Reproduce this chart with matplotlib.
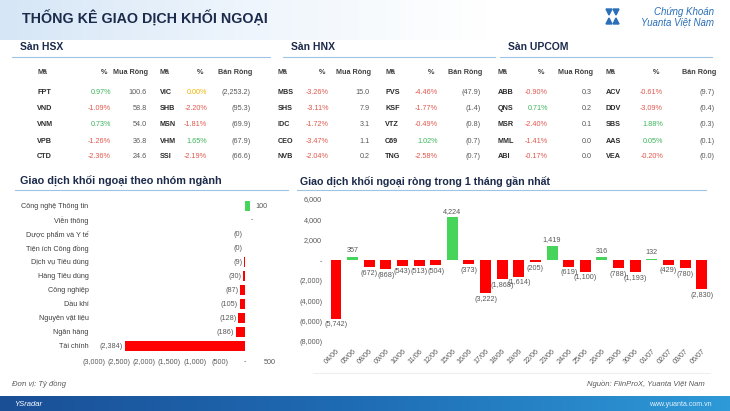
import numpy as np
import matplotlib
matplotlib.use("Agg")
import matplotlib.pyplot as plt
from matplotlib.patches import Polygon

plt.rcParams['font.family'] = ['Liberation Sans', 'DejaVu Sans']

W, H = 730, 411

# --- dữ liệu bảng ---
hsx_buy = ["FPT", "VND", "VNM", "VPB", "CTD"]
hsx_buy_pct = [0.97, -1.09, 0.73, -1.26, -2.36]
hsx_buy_val = [100.6, 58.8, 54.0, 36.8, 24.6]
hsx_sell = ["VIC", "SHB", "MSN", "VHM", "SSI"]
hsx_sell_pct = [0.00, -2.20, -1.81, 1.65, -2.19]
hsx_sell_val = [-2253.2, -95.3, -69.9, -67.9, -66.6]

hnx_buy = ["MBS", "SHS", "IDC", "CEO", "NVB"]
hnx_buy_pct = [-3.26, -3.11, -1.72, -3.47, -2.04]
hnx_buy_val = [15.0, 7.9, 3.1, 1.1, 0.2]
hnx_sell = ["PVS", "KSF", "VTZ", "C69", "TNG"]
hnx_sell_pct = [-4.46, -1.77, -0.49, 1.02, -2.58]
hnx_sell_val = [-47.9, -1.4, -0.8, -0.7, -0.7]

upc_buy = ["ABB", "QNS", "MSR", "MML", "ABI"]
upc_buy_pct = [-0.90, 0.71, -2.40, -1.41, -0.17]
upc_buy_val = [0.3, 0.2, 0.1, 0.0, 0.0]
upc_sell = ["ACV", "DDV", "SBS", "AAS", "VEA"]
upc_sell_pct = [-0.61, -3.09, 1.88, 0.05, -0.20]
upc_sell_val = [-9.7, -0.4, -0.3, -0.1, -0.0]

# --- theo nhóm ngành ---
sectors = ["Công nghệ Thông tin", "Viễn thông", "Dược phẩm và Y tế", "Tiện ích Công đồng",
           "Dịch vụ Tiêu dùng", "Hàng Tiêu dùng", "Công nghiệp", "Dầu khí",
           "Nguyên vật liệu", "Ngân hàng", "Tài chính"]
sector_vals = [100, 0, -0.3, -0.4, -9, -30, -87, -105, -128, -186, -2384]

# --- 1 tháng gần nhất ---
dates = ["04/06", "05/06", "08/06", "09/06", "10/06", "11/06", "12/06", "15/06", "16/06",
         "17/06", "18/06", "19/06", "22/06", "23/06", "24/06", "25/06", "26/06", "29/06",
         "30/06", "01/07", "02/07", "03/07", "06/07"]
daily_vals = [-5742, 357, -672, -868, -543, -513, -504, 4224, -373, -3222, -1868, -1614,
              -205, 1419, -619, -1100, 316, -788, -1193, 132, -429, -780, -2830]

RED = "#ff0000"
GREEN = "#47d45a"
GREY = "#595959"
NAVY = "#1c2b4b"
LINE = "#9dc3e6"


def fmt(v):
    if v == 0:
        return "-"
    if v < 0:
        return "({:,.0f})".format(abs(v))
    return "{:,.0f}".format(v)


def fmt1(v):
    if v < 0:
        return "({:,.1f})".format(abs(v))
    return "{:,.1f}".format(v)


def pct_color(p):
    if p > 0:
        return "#3cb55a"
    if p < 0:
        return "#e0584c"
    return "#f5b400"


fig = plt.figure(figsize=(W / 100, H / 100), dpi=100)


def P(x, y):
    return x / W, 1 - y / H


def txt(x, y, s, **kw):
    fig.text(*P(x, y), s, **kw)


# header gradient
hax = fig.add_axes([0, 1 - 40 / H, 1, 40 / H], zorder=-5)
grad = np.linspace(0, 1, 256).reshape(1, -1)
cmap = matplotlib.colors.LinearSegmentedColormap.from_list("h", ["#d6e6f6", "#eef5fc", "#ffffff", "#ffffff"])
hax.imshow(grad, aspect="auto", cmap=cmap, extent=[0, 1, 0, 1])
hax.axis("off")
txt(22, 19, "THỐNG KÊ GIAO DỊCH KHỐI NGOẠI", fontsize=10.3, color=NAVY, va="center", weight="bold")
# logo
for pts in [[(606, 9), (612, 9), (609, 15)], [(613, 9), (619, 9), (616, 15)],
            [(606, 24), (612, 24), (609, 18)], [(613, 24), (619, 24), (616, 18)]]:
    fig.patches.append(Polygon([P(*p) for p in pts], closed=True, color="#2a6fb8", transform=fig.transFigure))
txt(714, 12, "Chứng Khoán", fontsize=7, color="#2a6fb8", style="italic", va="center", ha="right")
txt(714, 22, "Yuanta Việt Nam", fontsize=7, color="#2a6fb8", style="italic", va="center", ha="right")

# section headers
for x0, x1, name in [(12, 270, "Sàn HSX"), (283, 495, "Sàn HNX"), (500, 712, "Sàn UPCOM")]:
    txt(x0 + 8, 47, name, fontsize=7.5, color=NAVY, weight="bold", va="center")
    fig.add_artist(plt.Line2D([x0 / W, x1 / W], [1 - 57 / H] * 2, color=LINE, lw=0.8))

rows_y = [92, 108, 124, 141, 157]
head_y = 73
tables = [
    (hsx_buy, hsx_buy_pct, hsx_buy_val, hsx_sell, hsx_sell_pct, hsx_sell_val,
     [37, 111, 147, 160, 207, 251]),
    (hnx_buy, hnx_buy_pct, hnx_buy_val, hnx_sell, hnx_sell_pct, hnx_sell_val,
     [278, 329, 370, 385, 438, 481]),
    (upc_buy, upc_buy_pct, upc_buy_val, upc_sell, upc_sell_pct, upc_sell_val,
     [498, 548, 592, 606, 663, 715]),
]
fs = 5.2
for bcode, bpct, bval, scode, spct, sval, xs in tables:
    hdr = dict(fontsize=fs, color="#404040", weight="bold", va="center")
    txt(xs[0], head_y, "Mã", ha="left", **hdr)
    txt(xs[1] - 4, head_y, "%", ha="right", **hdr)
    txt(xs[2] + 1, head_y, "Mua Ròng", ha="right", **hdr)
    txt(xs[3], head_y, "Mã", ha="left", **hdr)
    txt(xs[4] - 4, head_y, "%", ha="right", **hdr)
    txt(xs[5] + 1, head_y, "Bán Ròng", ha="right", **hdr)
    for i, y in enumerate(rows_y):
        txt(xs[0], y, bcode[i], fontsize=fs, color="#2b2b2b", weight="bold", va="center")
        txt(xs[1], y, "{:.2f}%".format(bpct[i]), fontsize=fs, color=pct_color(bpct[i]), ha="right", va="center")
        txt(xs[2], y, fmt1(bval[i]), fontsize=fs, color=GREY, ha="right", va="center")
        txt(xs[3], y, scode[i], fontsize=fs, color="#2b2b2b", weight="bold", va="center")
        txt(xs[4], y, "{:.2f}%".format(spct[i]), fontsize=fs, color=pct_color(spct[i]), ha="right", va="center")
        txt(xs[5], y, "({:,.1f})".format(abs(sval[i])), fontsize=fs, color=GREY, ha="right", va="center")

# chart titles
txt(20, 181, "Giao dịch khối ngoại theo nhóm ngành", fontsize=7.8, color=NAVY, weight="bold", va="center")
fig.add_artist(plt.Line2D([15 / W, 288 / W], [1 - 190 / H] * 2, color=LINE, lw=0.8))
txt(300, 181, "Giao dịch khối ngoại ròng trong 1 tháng gần nhất", fontsize=7.7, color=NAVY, weight="bold", va="center")
fig.add_artist(plt.Line2D([297 / W, 706 / W], [1 - 190 / H] * 2, color=LINE, lw=0.8))

# sector chart
ax1 = fig.add_axes([94 / W, 1 - 353 / H, 176 / W, 154 / H])
ypos = np.arange(len(sectors))
cols = [GREEN if v > 0 else RED for v in sector_vals]
ax1.barh(ypos, sector_vals, height=0.65, color=cols)
ax1.set_ylim(len(sectors) - 0.5, -0.5)
ax1.set_xlim(-3000, 500)
ax1.set_yticks(ypos)
ax1.set_yticklabels(sectors, fontsize=5.2, color="#404040")
xt = [-3000, -2500, -2000, -1500, -1000, -500, 0, 500]
ax1.set_xticks(xt)
ax1.set_xticklabels([fmt(v) for v in xt], fontsize=5.2, color=GREY)
ax1.tick_params(length=0, pad=4)
for s in ax1.spines.values():
    s.set_visible(False)
for i, v in enumerate(sector_vals):
    if v >= 0:
        ax1.text(v + 110, i, fmt(v), fontsize=5.2, color=GREY, ha="left", va="center")
    else:
        ax1.text(v - 40, i, fmt(v), fontsize=5.2, color=GREY, ha="right", va="center")

# daily chart
ax2 = fig.add_axes([327.7 / W, 1 - 342 / H, 382.3 / W, 143 / H])
xpos = np.arange(len(dates))
cols = [GREEN if v > 0 else RED for v in daily_vals]
ax2.bar(xpos, daily_vals, width=0.66, color=cols)
ax2.set_xlim(-0.5, len(dates) - 0.5)
ax2.set_ylim(-8000, 6000)
yt = list(range(-8000, 6001, 2000))
ax2.set_yticks(yt)
ax2.set_yticklabels([fmt(v) for v in yt], fontsize=5.2, color=GREY)
ax2.set_xticks(xpos)
ax2.set_xticklabels(dates, fontsize=5.2, color=GREY, rotation=45, ha="right", rotation_mode="anchor")
ax2.tick_params(length=0, pad=4)
for s in ax2.spines.values():
    s.set_visible(False)
for i, v in enumerate(daily_vals):
    if v >= 0:
        ax2.text(i, v + 250, fmt(v), fontsize=5.2, color=GREY, ha="center", va="bottom")
    else:
        ax2.text(i, v - 250, fmt(v), fontsize=5.2, color=GREY, ha="center", va="top")

# footer
fig.add_artist(plt.Line2D([313 / W, 710 / W], [1 - 373 / H] * 2, color="#eeeeee", lw=0.8))
txt(12, 384, "Đơn vị: Tỷ đồng", fontsize=5.5, color=GREY, style="italic", va="center")
txt(705, 384, "Nguồn: FiinProX, Yuanta Việt Nam", fontsize=5.5, color=GREY, style="italic", va="center", ha="right")

fax = fig.add_axes([0, 0, 1, 15 / H], zorder=-5)
cmap2 = matplotlib.colors.LinearSegmentedColormap.from_list("f", ["#1a4f96", "#1f6db5", "#2e9ad8"])
fax.imshow(grad, aspect="auto", cmap=cmap2, extent=[0, 1, 0, 1])
fax.axis("off")
txt(14, 404, "YSradar", fontsize=5.5, color="white", style="italic", va="center")
txt(712, 404, "www.yuanta.com.vn", fontsize=5, color="#e8f2fb", va="center", ha="right")

fig.savefig("out.png", dpi=100)
